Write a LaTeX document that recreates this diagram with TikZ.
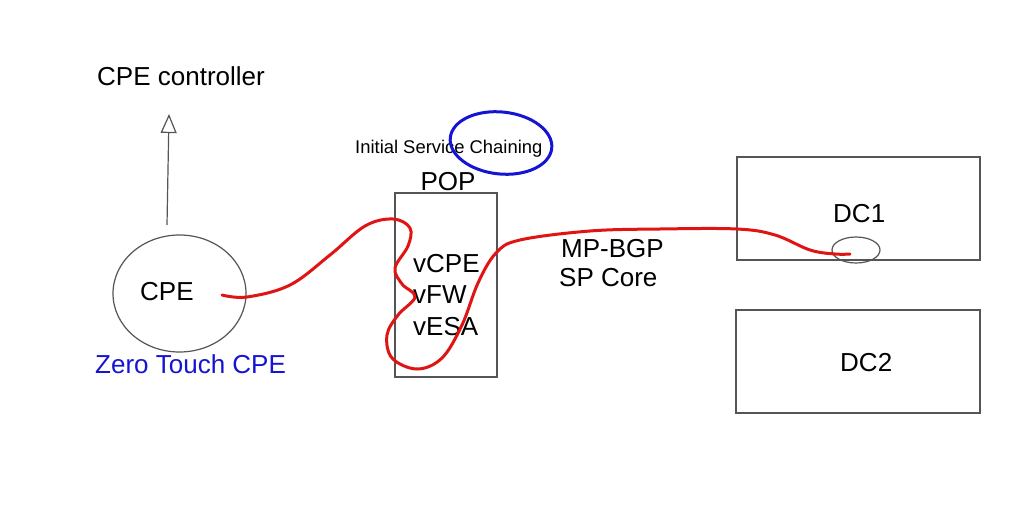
\documentclass[tikz,border=0pt]{standalone}
\usepackage{fontspec}
\setmainfont{Liberation Sans}
\usetikzlibrary{arrows.meta,shapes.geometric}
\definecolor{boxgray}{RGB}{85,85,85}
\definecolor{redline}{RGB}{225,20,20}
\definecolor{blueink}{RGB}{20,20,210}
\begin{document}
\begin{tikzpicture}[x=1pt,y=-1pt,
  lbl/.style={anchor=base west,inner sep=0pt,font=\fontsize{26}{30}\selectfont},
  smalllbl/.style={anchor=base west,inner sep=0pt,font=\fontsize{18.4}{22}\selectfont},
  grayline/.style={draw=boxgray,line width=1.2pt},
  redpath/.style={draw=redline,line width=3pt,line cap=round,line join=round}]
\useasboundingbox[fill=white] (0,0) rectangle (1024,532);
% CPE
\node[grayline,ellipse,minimum width=133pt,minimum height=117pt,inner sep=0pt] (cpe) at (179.5,293.5) {};
\node[lbl] (cpetxt) at (140,300) {CPE};
\node[lbl,text=blueink] (zt) at (95,373) {Zero Touch CPE};
\node[lbl] (ctrl) at (97,86) {CPE controller};
\coordinate (arrstart) at (167,225);
\coordinate (arrtip) at (169,114);
\draw[grayline,-{Triangle[open,length=19pt,width=16pt]}] (arrstart) -- (arrtip);
% POP
\node[grayline,rectangle,minimum width=102pt,minimum height=184pt,inner sep=0pt] (pop) at (446,285) {};
\node[lbl,anchor=base] (poptxt) at (448,190) {POP};
\node[lbl] (vcpe) at (413,272) {vCPE};
\node[lbl] (vfw) at (413,303) {vFW};
\node[lbl] (vesa) at (413,335) {vESA};
\node[smalllbl] (isc) at (355,153) {Initial Service Chaining};
\draw[draw=blueink,line width=3pt,rotate around={-6:(501,143)}] (501,143) ellipse [x radius=51, y radius=31];
% MP-BGP
\node[lbl] (mpbgp) at (561,257) {MP-BGP};
\node[lbl] (spcore) at (559,286) {SP Core};
% DC1 / DC2
\node[grayline,rectangle,minimum width=243pt,minimum height=103pt,inner sep=0pt] (dc1) at (858.5,208.5) {};
\node[lbl] (dc1txt) at (833,222) {DC1};
\node[grayline,ellipse,minimum width=48pt,minimum height=26pt,inner sep=0pt] (dc1e) at (856,250) {};
\node[grayline,rectangle,minimum width=244pt,minimum height=103pt,inner sep=0pt] (dc2) at (858,361.5) {};
\node[lbl] (dc2txt) at (840,371) {DC2};
% red service chain
\coordinate (rs) at (222,295);
\coordinate (re) at (850,254);
\draw[redpath] plot[smooth,tension=0.6] coordinates {
 (rs) (247,297) (290,285) (330,255) (365,226) (393,219) (410,228) (408,246) (395,268) (402,284) (415,297)
 (398,315) (387,335) (392,358) (417,369) (442,358) (462,325) (478,283) (496,253) (520,240) (590,231)
 (660,229) (737,229) (775,235) (810,250) (835,254) (re)};
\end{tikzpicture}
\end{document}
